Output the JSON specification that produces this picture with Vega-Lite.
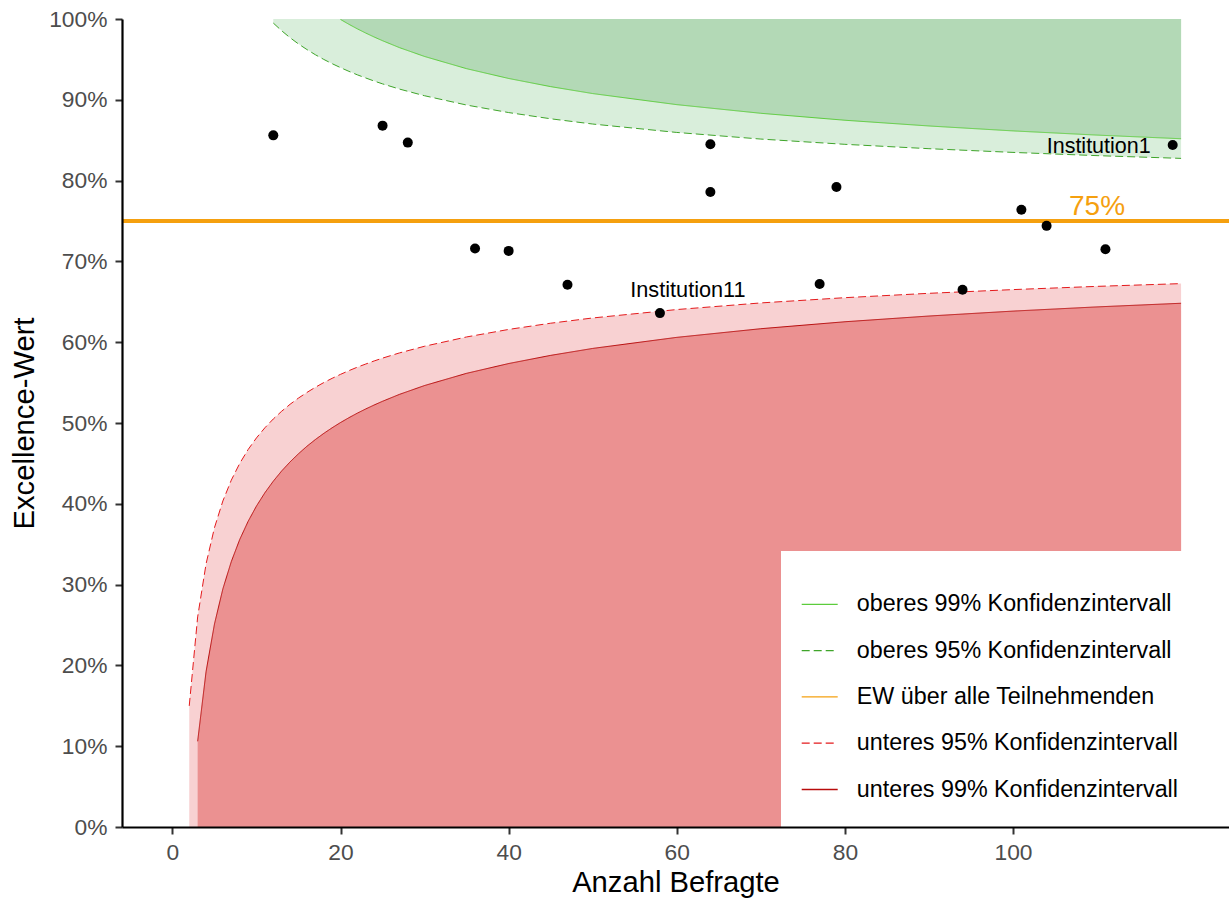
{
  "$schema": "https://vega.github.io/schema/vega-lite/v6.json",
  "width": 1107,
  "height": 808,
  "autosize": {"type": "none"},
  "padding": {"left": 122, "top": 19, "right": 0, "bottom": 71},
  "background": "white",
  "config": {
    "view": {"stroke": null},
    "font": "Liberation Sans",
    "axis": {
      "grid": false,
      "domainColor": "black",
      "domainWidth": 2.2,
      "tickColor": "#333333",
      "tickWidth": 2,
      "tickSize": 7,
      "labelFontSize": 22.8,
      "labelColor": "#4d4d4d",
      "titleFontSize": 29.2,
      "titleFontWeight": "normal",
      "titleColor": "black"
    }
  },
  "datasets": {
    "ci": [
      {"n": 2, "lo95": 0.1499},
      {"n": 3, "lo95": 0.26, "lo99": 0.1061},
      {"n": 4, "lo95": 0.3256, "lo99": 0.1923},
      {"n": 5, "lo95": 0.3704, "lo99": 0.2512},
      {"n": 6, "lo95": 0.4035, "lo99": 0.2947},
      {"n": 7, "lo95": 0.4292, "lo99": 0.3284},
      {"n": 8, "lo95": 0.4499, "lo99": 0.3557},
      {"n": 9, "lo95": 0.4671, "lo99": 0.3782},
      {"n": 10, "lo95": 0.4816, "lo99": 0.3973},
      {"n": 11, "lo95": 0.4941, "lo99": 0.4137},
      {"n": 12, "lo95": 0.505, "lo99": 0.428, "up95": 0.995},
      {"n": 13, "lo95": 0.5146, "lo99": 0.4407, "up95": 0.9854},
      {"n": 14, "lo95": 0.5232, "lo99": 0.4519, "up95": 0.9768},
      {"n": 15, "lo95": 0.5309, "lo99": 0.462, "up95": 0.9691},
      {"n": 16, "lo95": 0.5378, "lo99": 0.4712, "up95": 0.9622},
      {"n": 17, "lo95": 0.5442, "lo99": 0.4795, "up95": 0.9558},
      {"n": 18, "lo95": 0.55, "lo99": 0.4871, "up95": 0.95},
      {"n": 19, "lo95": 0.5553, "lo99": 0.4941, "up95": 0.9447},
      {"n": 20, "lo95": 0.5602, "lo99": 0.5006, "up95": 0.9398, "up99": 0.9994},
      {"n": 21, "lo95": 0.5648, "lo99": 0.5066, "up95": 0.9352, "up99": 0.9934},
      {"n": 22, "lo95": 0.5691, "lo99": 0.5122, "up95": 0.9309, "up99": 0.9878},
      {"n": 23, "lo95": 0.573, "lo99": 0.5174, "up95": 0.927, "up99": 0.9826},
      {"n": 24, "lo95": 0.5768, "lo99": 0.5223, "up95": 0.9232, "up99": 0.9777},
      {"n": 25, "lo95": 0.5803, "lo99": 0.5269, "up95": 0.9197, "up99": 0.9731},
      {"n": 27, "lo95": 0.5867, "lo99": 0.5354, "up95": 0.9133, "up99": 0.9646},
      {"n": 30, "lo95": 0.595, "lo99": 0.5464, "up95": 0.905, "up99": 0.9536},
      {"n": 35, "lo95": 0.6065, "lo99": 0.5615, "up95": 0.8935, "up99": 0.9385},
      {"n": 40, "lo95": 0.6158, "lo99": 0.5736, "up95": 0.8842, "up99": 0.9264},
      {"n": 45, "lo95": 0.6235, "lo99": 0.5837, "up95": 0.8765, "up99": 0.9163},
      {"n": 50, "lo95": 0.63, "lo99": 0.5923, "up95": 0.87, "up99": 0.9077},
      {"n": 60, "lo95": 0.6404, "lo99": 0.606, "up95": 0.8596, "up99": 0.894},
      {"n": 70, "lo95": 0.6486, "lo99": 0.6167, "up95": 0.8514, "up99": 0.8833},
      {"n": 80, "lo95": 0.6551, "lo99": 0.6253, "up95": 0.8449, "up99": 0.8747},
      {"n": 90, "lo95": 0.6605, "lo99": 0.6324, "up95": 0.8395, "up99": 0.8676},
      {"n": 100, "lo95": 0.6651, "lo99": 0.6385, "up95": 0.8349, "up99": 0.8615},
      {"n": 110, "lo95": 0.6691, "lo99": 0.6437, "up95": 0.8309, "up99": 0.8563},
      {"n": 120, "lo95": 0.6725, "lo99": 0.6482, "up95": 0.8275, "up99": 0.8518}
    ],
    "inst": [
      {"n": 12, "value": 0.856, "label": ""},
      {"n": 25, "value": 0.868, "label": ""},
      {"n": 28, "value": 0.847, "label": ""},
      {"n": 36, "value": 0.716, "label": ""},
      {"n": 40, "value": 0.713, "label": ""},
      {"n": 47, "value": 0.671, "label": ""},
      {"n": 58, "value": 0.636, "label": "Institution11"},
      {"n": 64, "value": 0.845, "label": ""},
      {"n": 64, "value": 0.786, "label": ""},
      {"n": 77, "value": 0.672, "label": ""},
      {"n": 79, "value": 0.792, "label": ""},
      {"n": 94, "value": 0.665, "label": ""},
      {"n": 101, "value": 0.764, "label": ""},
      {"n": 104, "value": 0.744, "label": ""},
      {"n": 111, "value": 0.715, "label": ""},
      {"n": 119, "value": 0.844, "label": "Institution1"}
    ],
    "ew": [{"key": "ew", "value": 0.75}]
  },
  "layer": [
    {
      "data": {"name": "ci"},
      "transform": [{"filter": "isValid(datum.up95)"}],
      "mark": {"type": "area", "color": "#d9eedb", "opacity": 1},
      "encoding": {
        "x": {"field": "n", "type": "quantitative", "scale": {"domain": [-6, 125.7], "nice": false, "zero": false},
              "axis": {"values": [0, 20, 40, 60, 80, 100], "title": "Anzahl Befragte", "labelPadding": 7, "titlePadding": 5, "zindex": 3}},
        "y": {"field": "up95", "type": "quantitative", "scale": {"domain": [0, 1], "nice": false},
              "axis": {"values": [0, 0.1, 0.2, 0.3, 0.4, 0.5, 0.6, 0.7, 0.8, 0.9, 1], "format": ".0%", "title": "Excellence-Wert", "labelPadding": 8, "titlePadding": 9.5, "zindex": 3}},
        "y2": {"datum": 1}
      }
    },
    {
      "data": {"name": "ci"},
      "transform": [{"filter": "isValid(datum.up99)"}],
      "mark": {"type": "area", "color": "#b3d9b6", "opacity": 1},
      "encoding": {
        "x": {"field": "n", "type": "quantitative"},
        "y": {"field": "up99", "type": "quantitative"},
        "y2": {"datum": 1}
      }
    },
    {
      "data": {"name": "ci"},
      "transform": [{"filter": "isValid(datum.lo95)"}],
      "mark": {"type": "area", "color": "#f8d1d2", "opacity": 1},
      "encoding": {
        "x": {"field": "n", "type": "quantitative"},
        "y": {"field": "lo95", "type": "quantitative"},
        "y2": {"datum": 0}
      }
    },
    {
      "data": {"name": "ci"},
      "transform": [{"filter": "isValid(datum.lo99)"}],
      "mark": {"type": "area", "color": "#eb9191", "opacity": 1},
      "encoding": {
        "x": {"field": "n", "type": "quantitative"},
        "y": {"field": "lo99", "type": "quantitative"},
        "y2": {"datum": 0}
      }
    },
    {
      "data": {"name": "ci"},
      "transform": [
        {"fold": ["up99", "up95", "lo95", "lo99"], "as": ["key", "value"]},
        {"filter": "isValid(datum.value)"}
      ],
      "mark": {"type": "line", "strokeWidth": 1},
      "encoding": {
        "x": {"field": "n", "type": "quantitative"},
        "y": {"field": "value", "type": "quantitative"},
        "detail": {"field": "key"},
        "color": {
          "field": "key", "type": "nominal",
          "scale": {"domain": ["up99", "up95", "ew", "lo95", "lo99"], "range": ["#5ccc3c", "#3fa52a", "#f5a00f", "#e41a1c", "#b80c0c"]},
          "legend": {
            "orient": "none", "legendX": 659, "legendY": 532, "zindex": 1,
            "title": " ", "titleFontSize": 5, "titlePadding": 3.3,
            "padding": 26, "fillColor": "white", "strokeColor": null,
            "labelFontSize": 23.3, "labelColor": "black", "labelOffset": 18.1, "labelLimit": 600,
            "symbolType": "stroke", "symbolSize": 1296, "symbolStrokeWidth": 1.3, "symbolOffset": -6.3, "rowPadding": 15.3,
            "labelExpr": "datum.label == 'up99' ? 'oberes 99% Konfidenzintervall' : datum.label == 'up95' ? 'oberes 95% Konfidenzintervall' : datum.label == 'ew' ? 'EW über alle Teilnehmenden' : datum.label == 'lo95' ? 'unteres 95% Konfidenzintervall' : 'unteres 99% Konfidenzintervall'"
          }
        },
        "strokeDash": {
          "field": "key", "type": "nominal",
          "scale": {"domain": ["up99", "up95", "ew", "lo95", "lo99"], "range": [[1, 0], [8, 4], [1, 0], [8, 4], [1, 0]]},
          "legend": {
            "orient": "none", "legendX": 659, "legendY": 532, "zindex": 1,
            "title": " ", "titleFontSize": 5, "titlePadding": 3.3,
            "padding": 26, "fillColor": "white", "strokeColor": null,
            "labelFontSize": 23.3, "labelColor": "black", "labelOffset": 18.1, "labelLimit": 600,
            "symbolType": "stroke", "symbolSize": 1296, "symbolStrokeWidth": 1.3, "symbolOffset": -6.3, "rowPadding": 15.3,
            "labelExpr": "datum.label == 'up99' ? 'oberes 99% Konfidenzintervall' : datum.label == 'up95' ? 'oberes 95% Konfidenzintervall' : datum.label == 'ew' ? 'EW über alle Teilnehmenden' : datum.label == 'lo95' ? 'unteres 95% Konfidenzintervall' : 'unteres 99% Konfidenzintervall'"
          }
        }
      }
    },
    {
      "data": {"name": "ew"},
      "mark": {"type": "rule", "strokeWidth": 4},
      "encoding": {
        "y": {"field": "value", "type": "quantitative"},
        "color": {"field": "key", "type": "nominal"},
        "strokeDash": {"field": "key", "type": "nominal"}
      }
    },
    {
      "data": {"name": "ew"},
      "mark": {"type": "text", "color": "#f5a00f", "fontSize": 28, "align": "center", "baseline": "alphabetic", "dy": -6},
      "encoding": {
        "x": {"datum": 110, "type": "quantitative"},
        "y": {"field": "value", "type": "quantitative"},
        "text": {"field": "value", "type": "quantitative", "format": ".0%"}
      }
    },
    {
      "data": {"name": "inst"},
      "mark": {"type": "point", "filled": true, "color": "black", "opacity": 1, "size": 100},
      "encoding": {
        "x": {"field": "n", "type": "quantitative"},
        "y": {"field": "value", "type": "quantitative"}
      }
    },
    {
      "data": {"name": "inst"},
      "transform": [{"filter": "datum.label == 'Institution11'"}],
      "mark": {"type": "text", "color": "black", "fontSize": 21.7, "align": "center", "baseline": "alphabetic", "dx": 28, "dy": -16},
      "encoding": {
        "x": {"field": "n", "type": "quantitative"},
        "y": {"field": "value", "type": "quantitative"},
        "text": {"field": "label"}
      }
    },
    {
      "data": {"name": "inst"},
      "transform": [{"filter": "datum.label == 'Institution1'"}],
      "mark": {"type": "text", "color": "black", "fontSize": 21.5, "align": "right", "baseline": "alphabetic", "dx": -22, "dy": 8},
      "encoding": {
        "x": {"field": "n", "type": "quantitative"},
        "y": {"field": "value", "type": "quantitative"},
        "text": {"field": "label"}
      }
    }
  ]
}
